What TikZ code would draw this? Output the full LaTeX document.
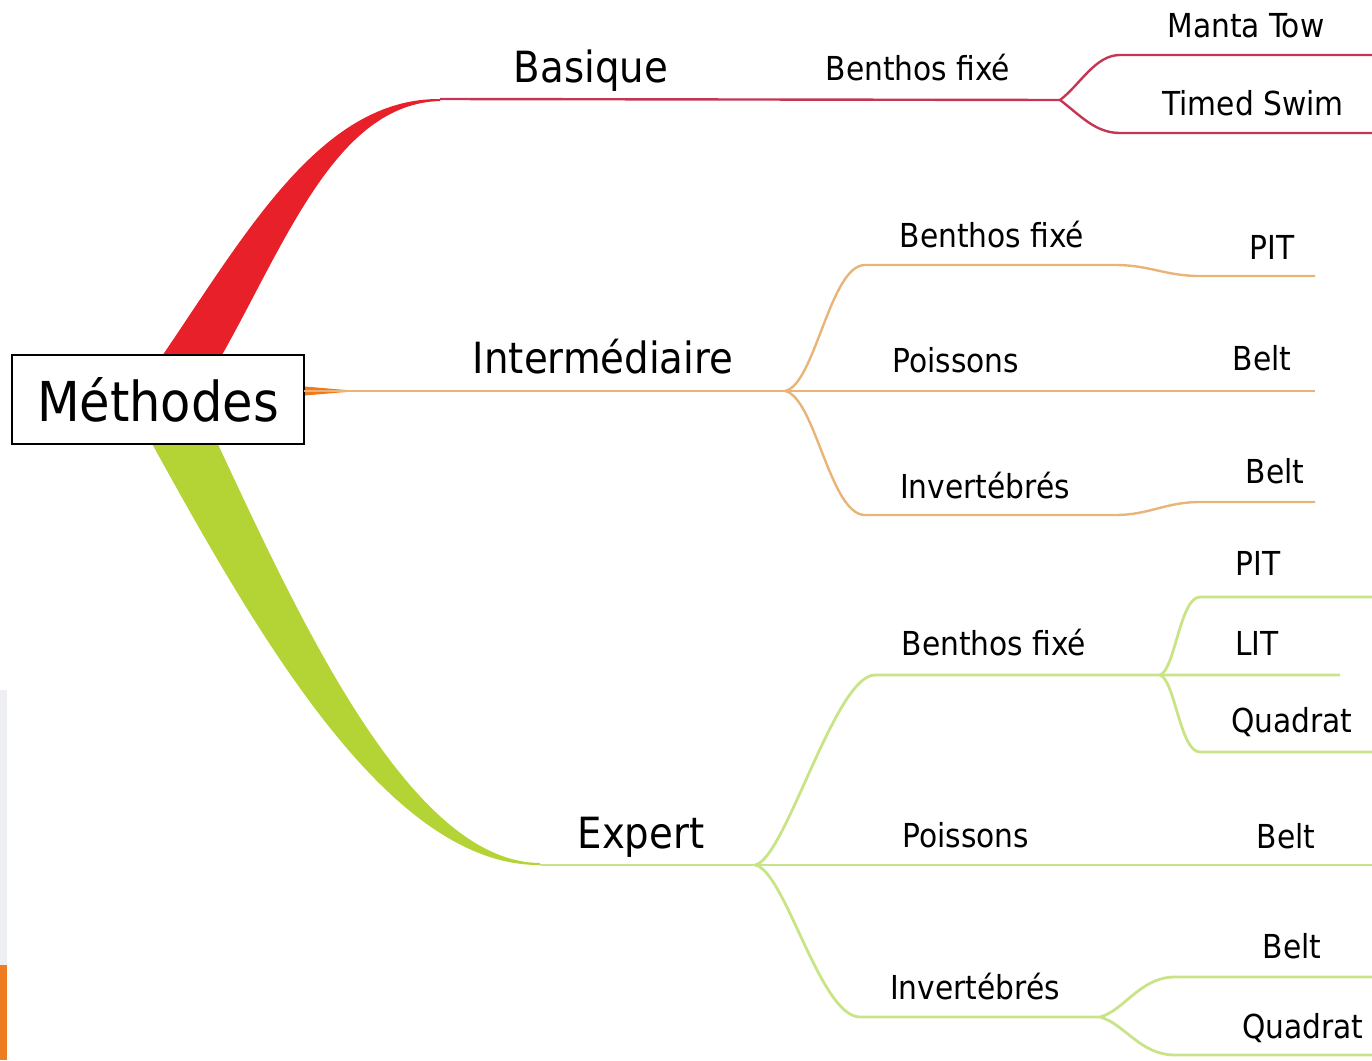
\documentclass[tikz,border=0pt]{standalone}
\usepackage{fontspec}
\setmainfont{DejaVu Sans Condensed}
\usetikzlibrary{positioning}

\definecolor{basiqueRed}{HTML}{E8202A}
\definecolor{basiqueLine}{HTML}{C43654}
\definecolor{interOrange}{HTML}{F07A1A}
\definecolor{interLine}{HTML}{E8B478}
\definecolor{expertGreen}{HTML}{B4D335}
\definecolor{expertLine}{HTML}{C8E487}
\definecolor{slideOrange}{HTML}{EE7D22}
\definecolor{slideGrey}{HTML}{EEEFF3}

\tikzset{
  root/.style={draw=black, line width=1.5pt, fill=white, inner sep=0pt,
    minimum width=292pt, minimum height=89pt, font=\fontsize{55}{60}\selectfont},
  level/.style={anchor=base, inner sep=0pt, font=\fontsize{43}{48}\selectfont},
  leaf/.style={anchor=base, inner sep=0pt, font=\fontsize{33}{38}\selectfont},
  basique line/.style={basiqueLine, line width=2.4pt},
  inter line/.style={interLine, line width=2.4pt},
  expert line/.style={expertLine, line width=2.8pt}
}

\begin{document}
\begin{tikzpicture}[x=1pt, y=-1pt]
        \useasboundingbox (0,0) rectangle (1372,1060);
        \fill[slideGrey] (0,690) rectangle (7,965);
        \fill[slideOrange] (0,965) rectangle (7,1060);

        \coordinate (bas0) at (440,99);
        \coordinate (basF) at (1060,100);
        \coordinate (mt0) at (1120,55);
        \coordinate (mt1) at (1372,55);
        \coordinate (ts0) at (1120,133);
        \coordinate (ts1) at (1372,133);

        \coordinate (int0) at (304,391);
        \coordinate (intTip) at (365,391);
        \coordinate (intF) at (785,391);
        \coordinate (ib0) at (865,265);
        \coordinate (ib1) at (1115,265);
        \coordinate (ib2) at (1200,276);
        \coordinate (ib3) at (1315,276);
        \coordinate (ip1) at (1315,391);
        \coordinate (ii0) at (865,515);
        \coordinate (ii1) at (1115,515);
        \coordinate (ii2) at (1200,502);
        \coordinate (ii3) at (1315,502);

        \coordinate (exp0) at (540,865);
        \coordinate (expF) at (755,865);
        \coordinate (eb0) at (875,675);
        \coordinate (ebF) at (1160,675);
        \coordinate (pit0) at (1200,597);
        \coordinate (pit1) at (1372,597);
        \coordinate (lit1) at (1340,675);
        \coordinate (qd0) at (1200,752);
        \coordinate (qd1) at (1372,752);
        \coordinate (ep1) at (1372,865);
        \coordinate (ei0) at (860,1017);
        \coordinate (eiF) at (1100,1017);
        \coordinate (bl0) at (1175,977);
        \coordinate (bl1) at (1372,977);
        \coordinate (qq0) at (1175,1055);
        \coordinate (qq1) at (1372,1055);

        \fill[basiqueRed] (158,362) .. controls (245,235) and (320,98) .. (bas0)
          -- ([yshift=-2pt]bas0) .. controls (335,104) and (285,245) .. (218,362) -- cycle;
        \fill[interOrange] ([yshift=4.5pt]int0) .. controls (325,388) and (340,390) .. (intTip)
          .. controls (340,392) and (325,394) .. ([yshift=-4.5pt]int0) -- cycle;
        \fill[expertGreen] (150,440) .. controls (260,640) and (390,866) .. (exp0)
          -- ([yshift=2pt]exp0) .. controls (410,862) and (300,620) .. (216,440) -- cycle;

        \node[root] (methodes) at (158,399.5) {Méthodes};

        \draw[basique line] (bas0) -- (basF);
        \draw[basique line] (basF) .. controls (1080,85) and (1095,55) .. (mt0) -- (mt1);
        \draw[basique line] (basF) .. controls (1080,115) and (1095,133) .. (ts0) -- (ts1);

        \draw[inter line] (int0) -- (intF) -- (ip1);
        \draw[inter line] (intF) .. controls (815,385) and (830,265) .. (ib0) -- (ib1)
          .. controls (1150,265) and (1165,276) .. (ib2) -- (ib3);
        \draw[inter line] (intF) .. controls (815,397) and (830,515) .. (ii0) -- (ii1)
          .. controls (1150,515) and (1165,502) .. (ii2) -- (ii3);

        \draw[expert line] (exp0) -- (expF) -- (ep1);
        \draw[expert line] (expF) .. controls (785,860) and (835,675) .. (eb0) -- (ebF) -- (lit1);
        \draw[expert line] (ebF) .. controls (1175,670) and (1180,597) .. (pit0) -- (pit1);
        \draw[expert line] (ebF) .. controls (1175,680) and (1180,752) .. (qd0) -- (qd1);
        \draw[expert line] (expF) .. controls (785,870) and (820,1017) .. (ei0) -- (eiF);
        \draw[expert line] (eiF) .. controls (1125,1010) and (1140,977) .. (bl0) -- (bl1);
        \draw[expert line] (eiF) .. controls (1125,1024) and (1140,1055) .. (qq0) -- (qq1);

        \node[level] (basique) at (591,82) {Basique};
        \node[leaf] (basBenthos) at (918,80) {Benthos fixé};
        \node[leaf] (manta) at (1246,37) {Manta Tow};
        \node[leaf] (timed) at (1253,115) {Timed Swim};

        \node[level] (inter) at (603,373) {Intermédiaire};
        \node[leaf] (intBenthos) at (992,247) {Benthos fixé};
        \node[leaf] (intPit) at (1272,259) {PIT};
        \node[leaf] (intPoissons) at (956,372) {Poissons};
        \node[leaf] (intBelt) at (1262,370) {Belt};
        \node[leaf] (intInvert) at (985,498) {Invertébrés};
        \node[leaf] (intBeltInv) at (1275,483) {Belt};

        \node[level] (expert) at (641,848) {Expert};
        \node[leaf] (expBenthos) at (994,655) {Benthos fixé};
        \node[leaf] (expPit) at (1258,575) {PIT};
        \node[leaf] (expLit) at (1257,655) {LIT};
        \node[leaf] (expQuadrat) at (1292,732) {Quadrat};
        \node[leaf] (expPoissons) at (966,847) {Poissons};
        \node[leaf] (expBelt) at (1286,848) {Belt};
        \node[leaf] (expInvert) at (975,999) {Invertébrés};
        \node[leaf] (expBeltInv) at (1292,958) {Belt};
        \node[leaf] (expQuadratInv) at (1303,1038) {Quadrat};
      \end{tikzpicture}
\end{document}
